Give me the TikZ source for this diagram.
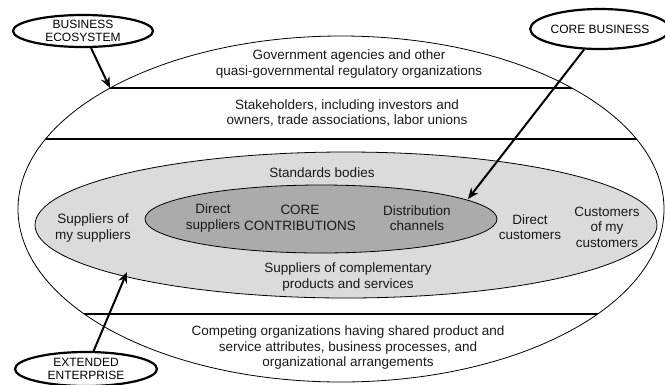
\documentclass[tikz,border=0pt]{standalone}
\usepackage{fontspec}
\setmainfont{Liberation Sans}
\usetikzlibrary{shapes.geometric,arrows.meta}

\begin{document}
\begin{tikzpicture}[x=1pt, y=-1pt,
		txt/.style={align=center, text=black!90, font=\fontsize{13.5}{15.5}\selectfont},
		tag/.style={ellipse, draw, line width=2.2pt, fill=white, align=center, inner sep=0pt, font=\fontsize{12}{13}\selectfont},
		pointer/.style={line width=2pt, -{Stealth[length=11pt, width=9pt]}}]
			\useasboundingbox (0, 0) rectangle (665, 384);
			% business ecosystem and its bands
			\draw[line width=0.8pt] (341, 209) ellipse [x radius=323, y radius=173];
			\begin{scope}
				\clip (341, 209) ellipse [x radius=323, y radius=173];
				\draw[line width=1.3pt] (0, 88) -- (665, 88);
				\draw[line width=1.3pt] (0, 139) -- (665, 139);
				\draw[line width=1.3pt] (0, 314) -- (665, 314);
			\end{scope}
			\draw (346, 225) node [ellipse, draw, line width=0.8pt, fill=gray!28, minimum width=622pt, minimum height=146pt] (ext) {};
			\draw (321, 219) node [ellipse, draw, line width=0.8pt, fill=gray!66, minimum width=352pt, minimum height=68pt] (core) {};
			% texts
			\draw (349, 64) node [txt] (gov) {Government agencies and other\\quasi-governmental regulatory organizations};
			\draw (347, 113) node [txt] (stake) {Stakeholders, including investors and\\owners, trade associations, labor unions};
			\draw (322, 173) node [txt] (std) {Standards bodies};
			\draw (93, 228) node [txt] (supsup) {Suppliers of\\my suppliers};
			\draw (213, 218) node [txt] (dsup) {Direct\\suppliers};
			\draw (300, 218) node [txt] (contrib) {CORE\\CONTRIBUTIONS};
			\draw (417, 218) node [txt] (dist) {Distribution\\channels};
			\draw (530, 227) node [txt] (dcust) {Direct\\customers};
			\draw (607, 227) node [txt] (custcust) {Customers\\of my\\customers};
			\draw (348, 277) node [txt] (compl) {Suppliers of complementary\\products and services};
			\draw (348, 348) node [txt] (comp) {Competing organizations having shared product and\\service attributes, business processes, and\\organizational arrangements};
			% callouts
			\draw (83, 31) node [tag, minimum width=140pt, minimum height=32pt] (eco) {BUSINESS\\ECOSYSTEM};
			\draw (600, 29) node [tag, minimum width=130pt, minimum height=40pt] (corebiz) {CORE BUSINESS};
			\draw (86, 369) node [tag, minimum width=142pt, minimum height=34pt] (ent) {EXTENDED\\ENTERPRISE};
			\coordinate (ecoTip) at (110, 88);
			\coordinate (coreTip) at (468, 199);
			\coordinate (entTip) at (127, 272);
			\path (eco) edge [pointer] (ecoTip);
			\path (corebiz) edge [pointer] (coreTip);
			\path (ent) edge [pointer] (entTip);
		\end{tikzpicture}
\end{document}
